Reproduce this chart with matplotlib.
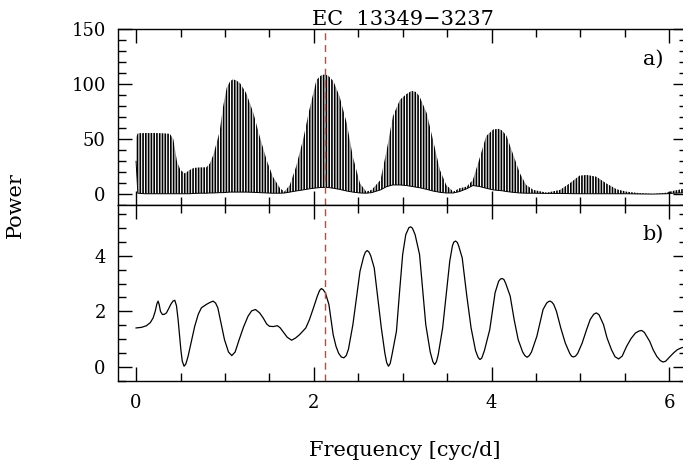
import numpy as np
import matplotlib
matplotlib.use('Agg')
import matplotlib.pyplot as plt
from matplotlib.ticker import MultipleLocator

plt.rcParams['font.family'] = ['DejaVu Serif']
plt.rcParams['hatch.linewidth'] = 1.2
plt.rcParams['axes.linewidth'] = 1.0

# panel a) : envelope of the aliased power spectrum (upper tips / lower troughs)
freq_a = [0.0, 0.02, 0.1, 0.2, 0.3, 0.38, 0.42, 0.46, 0.5, 0.55, 0.6, 0.65, 0.72, 0.79,
          0.83, 0.87, 0.94, 0.98, 1.02, 1.06, 1.09, 1.13, 1.17, 1.24, 1.32, 1.39, 1.47,
          1.54, 1.62, 1.67, 1.73, 1.80, 1.88, 1.95, 2.03, 2.08, 2.12, 2.16, 2.22, 2.29,
          2.37, 2.44, 2.52, 2.59, 2.65, 2.75, 2.82, 2.89, 2.97, 3.04, 3.10, 3.15, 3.19,
          3.27, 3.34, 3.42, 3.49, 3.57, 3.64, 3.72, 3.79, 3.87, 3.94, 4.02, 4.08, 4.12,
          4.17, 4.24, 4.32, 4.39, 4.47, 4.62, 4.77, 4.88, 4.99, 5.07, 5.18, 5.29, 5.41,
          5.52, 5.67, 5.82, 5.97, 6.05, 6.2]
upper_a = [52, 55.5, 55.7, 55.7, 55.5, 55, 50, 30, 22, 19, 22, 24, 24.5, 24.5,
           28, 36, 57, 80, 97, 103, 104.5, 103.5, 101, 92, 74, 53, 31,
           16, 5.5, 2.4, 8.5, 25, 50, 77, 104, 108, 109, 108, 103, 89,
           65, 34, 10, 2.4, 4, 13, 40, 71, 86, 91, 94, 93, 89,
           74, 50, 22, 8.5, 2.4, 5.5, 7, 13, 34, 53, 59, 59.5, 58,
           53, 37, 19, 8.5, 4, 1.5, 4, 10, 17, 17.6, 16, 10, 4.5,
           2.4, 1, 0.3, 1.5, 3.3, 5.5]
lower_a = [30, 1, 0.5, 0.5, 0.5, 0.5, 0.5, 0.5, 0.5, 0.5, 0.5, 0.8, 1, 1,
           1.2, 1.2, 1.5, 1.5, 1.8, 2, 2, 2, 2, 2, 1.8, 1.5, 1.2,
           1, 1, 1.2, 2, 3, 4, 5, 5.8, 6.2, 6.3, 6.2, 5.5, 4.5,
           3, 2, 1.2, 1, 1.5, 4, 7, 8.5, 8.5, 8, 7.2, 6.5, 6,
           4.5, 3, 1.8, 1.2, 1.2, 2.5, 5, 8, 7, 5.5, 4, 3.5, 3.2,
           2.5, 1.8, 1.2, 1, 1, 0.8, 0.8, 0.6, 0.5, 0.5, 0.5, 0.5, 0.5,
           0.5, 0.3, 0.2, 0.5, 1, 1.5]

# panel b)
freq_b = [0.0, 0.06, 0.117, 0.16, 0.192, 0.215, 0.235, 0.248, 0.26, 0.275, 0.297, 0.32,
          0.342, 0.37, 0.39, 0.415, 0.436, 0.455, 0.473, 0.49, 0.505, 0.52, 0.54, 0.56,
          0.585, 0.62, 0.66, 0.70, 0.735, 0.79, 0.83, 0.867, 0.895, 0.92, 0.955, 0.995,
          1.04, 1.077, 1.115, 1.16, 1.21, 1.26, 1.30, 1.344, 1.39, 1.43, 1.47, 1.50,
          1.545, 1.59, 1.62, 1.65, 1.70, 1.75, 1.795, 1.84, 1.91, 1.95, 1.99, 2.04,
          2.065, 2.085, 2.105, 2.13, 2.17, 2.218, 2.25, 2.28, 2.31, 2.338, 2.365, 2.39,
          2.44, 2.48, 2.52, 2.56, 2.58, 2.60, 2.62, 2.64, 2.68, 2.72, 2.76, 2.80,
          2.82, 2.84, 2.86, 2.88, 2.93, 2.965, 3.00, 3.035, 3.07, 3.09, 3.11, 3.14,
          3.19, 3.225, 3.26, 3.31, 3.34, 3.36, 3.38, 3.40, 3.45, 3.49, 3.53, 3.56,
          3.575, 3.595, 3.615, 3.63, 3.67, 3.72, 3.77, 3.82, 3.85, 3.87, 3.89, 3.92,
          3.98, 4.04, 4.08, 4.10, 4.12, 4.14, 4.16, 4.21, 4.255, 4.30, 4.35, 4.375,
          4.40, 4.425, 4.45, 4.51, 4.58, 4.62, 4.645, 4.66, 4.68, 4.70, 4.73, 4.78,
          4.83, 4.88, 4.90, 4.92, 4.945, 4.97, 5.02, 5.07, 5.11, 5.15, 5.18, 5.21,
          5.26, 5.30, 5.35, 5.39, 5.43, 5.47, 5.52, 5.57, 5.62, 5.66, 5.69, 5.72,
          5.78, 5.82, 5.86, 5.90, 5.93, 5.96, 6.01, 6.05, 6.09, 6.13, 6.16, 6.2]
power_b = [1.41, 1.43, 1.49, 1.60, 1.77, 2.0, 2.28, 2.37, 2.25, 2.0, 1.89, 1.90,
           1.95, 2.12, 2.25, 2.37, 2.40, 2.2, 1.71, 1.1, 0.6, 0.22, 0.04, 0.12,
           0.39, 0.9, 1.47, 1.9, 2.13, 2.25, 2.32, 2.37, 2.3, 2.13, 1.6, 0.99,
           0.55, 0.42, 0.55, 0.99, 1.45, 1.83, 2.02, 2.07, 1.95, 1.77, 1.55, 1.47,
           1.46, 1.49, 1.42, 1.29, 1.08, 0.97, 1.05, 1.17, 1.41, 1.7, 2.07, 2.55,
           2.75, 2.82, 2.78, 2.67, 2.25, 1.17, 0.75, 0.5, 0.37, 0.34, 0.42, 0.65,
           1.53, 2.5, 3.44, 3.95, 4.12, 4.18, 4.13, 4.0, 3.56, 2.5, 1.41, 0.5,
           0.17, 0.04, 0.14, 0.45, 1.29, 2.7, 4.04, 4.75, 5.0, 5.03, 4.98, 4.75,
           4.04, 2.8, 1.53, 0.55, 0.2, 0.10, 0.2, 0.45, 1.41, 2.6, 3.80, 4.35,
           4.48, 4.52, 4.47, 4.35, 3.92, 2.6, 1.41, 0.6, 0.35, 0.28, 0.33, 0.6,
           1.35, 2.67, 3.08, 3.16, 3.18, 3.14, 3.0, 2.55, 1.7, 0.99, 0.55, 0.42,
           0.36, 0.42, 0.55, 1.11, 2.07, 2.3, 2.36, 2.37, 2.33, 2.25, 2.01, 1.4,
           0.87, 0.5, 0.4, 0.37, 0.4, 0.5, 0.87, 1.35, 1.71, 1.9, 1.95, 1.88,
           1.53, 1.05, 0.63, 0.38, 0.30, 0.4, 0.75, 1.03, 1.23, 1.3, 1.32, 1.25,
           0.93, 0.62, 0.39, 0.24, 0.19, 0.22, 0.39, 0.52, 0.63, 0.69, 0.72, 0.76]

f_mark = 2.13
title = 'EC  13349\u22123237'

fig = plt.figure(figsize=(6.83, 4.65), dpi=100)
ax1 = fig.add_axes([0.1732, 0.5585, 0.8327, 0.3785])
ax2 = fig.add_axes([0.1732, 0.18, 0.8327, 0.3785])

# a) dense aliasing drawn as vertical hatch between the envelopes
ax1.fill_between(freq_a, lower_a, upper_a, facecolor='none', edgecolor='k',
                 linewidth=0, hatch='||||||')
ax1.plot(freq_a, lower_a, color='k', lw=0.7)
ax1.set_ylim(-10, 150)
ax1.yaxis.set_major_locator(MultipleLocator(50))
ax1.yaxis.set_minor_locator(MultipleLocator(10))
ax1.text(0.94, 0.83, 'a)', transform=ax1.transAxes, ha='center', va='center', fontsize=15)

# b)
ax2.plot(freq_b, power_b, color='k', lw=0.9)
ax2.set_ylim(-0.5, 5.8)
ax2.yaxis.set_major_locator(MultipleLocator(2))
ax2.yaxis.set_minor_locator(MultipleLocator(0.5))
ax2.text(0.94, 0.837, 'b)', transform=ax2.transAxes, ha='center', va='center', fontsize=15)

for ax in (ax1, ax2):
    ax.set_xlim(-0.2, 6.2)
    ax.xaxis.set_major_locator(MultipleLocator(2))
    ax.xaxis.set_minor_locator(MultipleLocator(0.5))
    ax.axvline(f_mark, color='#e03c28', lw=1.0, dashes=(5, 3.5))
    ax.tick_params(which='both', direction='in', top=True, right=True, width=1.0)
    ax.tick_params(which='major', length=10, labelsize=13, pad=9)
    ax.tick_params(which='minor', length=5.5)

ax1.tick_params(labelbottom=False)

fig.text(0.590, 0.946, title, ha='center', va='baseline', fontsize=15)
fig.text(0.592, 0.020, 'Frequency [cyc/d]', ha='center', va='baseline', fontsize=15)
fig.text(0.022, 0.559, 'Power', ha='center', va='center', rotation=90, fontsize=15)

fig.savefig('out.png', dpi=100)
